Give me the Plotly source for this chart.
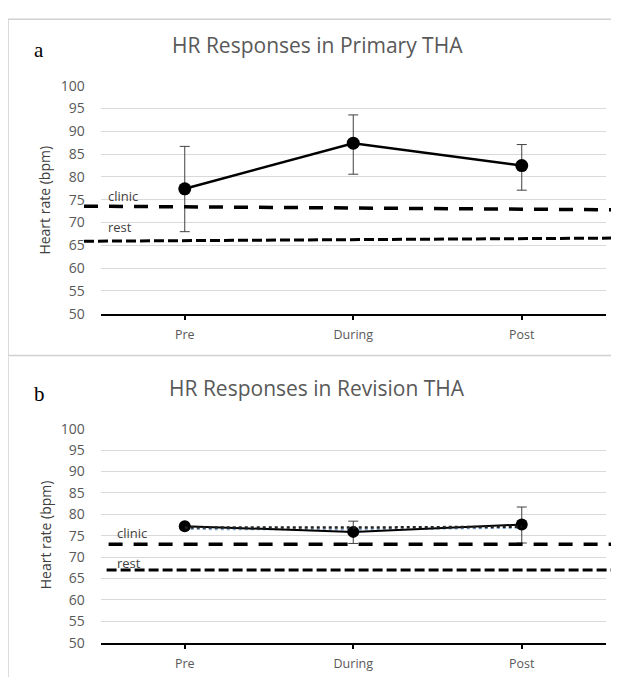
import plotly.graph_objects as go

categories = ["Pre", "During", "Post"]

# Panel a: Primary THA
primary_mean = [77.4, 87.4, 82.5]
primary_err_plus = [9.3, 6.2, 4.6]
primary_err_minus = [9.4, 6.8, 5.4]
primary_clinic = [73.6, 72.8]   # left end, right end
primary_rest = [65.9, 66.6]

# Panel b: Revision THA
revision_mean = [77.2, 75.9, 77.6]
revision_err_plus = [0.0, 2.5, 4.1]
revision_err_minus = [0.0, 2.7, 4.3]
revision_dotted = [76.9, 76.9, 77.1]
revision_dotted_blue = [76.5, 76.4, 76.8]
revision_clinic = [73.0, 73.0]
revision_rest = [67.0, 67.0]

titles = ["HR Responses in Primary THA", "HR Responses in Revision THA"]
panel_letters = ["a", "b"]
y_ticks = list(range(50, 101, 5))

W, H = 619, 677
OX = 8
def px(x): return (x - OX) / W
def py(y):
    f = (y - 17.2) / 0.973
    return 1 - f / H

fig = go.Figure()

fig.add_trace(go.Scatter(
    x=categories, y=primary_mean, xaxis="x", yaxis="y",
    mode="lines+markers",
    line=dict(color="black", width=2.5),
    marker=dict(color="black", size=13),
    error_y=dict(type="data", symmetric=False, array=primary_err_plus,
                 arrayminus=primary_err_minus, color="#404040", thickness=1, width=5),
    showlegend=False, cliponaxis=False))

fig.add_trace(go.Scatter(
    x=categories, y=revision_dotted_blue, xaxis="x2", yaxis="y2",
    mode="lines", line=dict(color="#7fa7d0", width=1.5, dash="dot"),
    showlegend=False))
fig.add_trace(go.Scatter(
    x=categories, y=revision_mean, xaxis="x2", yaxis="y2",
    mode="lines+markers",
    line=dict(color="black", width=2),
    marker=dict(color="black", size=12),
    error_y=dict(type="data", symmetric=False, array=revision_err_plus,
                 arrayminus=revision_err_minus, color="#404040", thickness=1, width=5),
    showlegend=False, cliponaxis=False))
fig.add_trace(go.Scatter(
    x=categories, y=revision_dotted, xaxis="x2", yaxis="y2",
    mode="lines", line=dict(color="#222222", width=2.5, dash="dot"),
    showlegend=False))

xdom = [px(100.5), px(606)]
ydom_a = [py(313.3), py(85)]
ydom_b = [py(642.7), py(428.3)]

axis_x = dict(domain=xdom, range=[-0.5, 2.5], type="category",
              showline=True, linecolor="black", linewidth=2,
              ticks="outside", tickcolor="black", ticklen=4, tickwidth=1.5,
              showgrid=False, zeroline=False,
              tickfont=dict(family="Open Sans", size=12.5, color="#595959"),
              ticklabelstandoff=4)
axis_y = dict(range=[50, 100], tickvals=y_ticks, showgrid=True,
              gridcolor="#d9d9d9", gridwidth=1, zeroline=False, showline=False,
              ticks="outside", ticklen=12, tickcolor="rgba(0,0,0,0)",
              tickfont=dict(family="Open Sans", size=14, color="#595959"))

fig.update_layout(
    width=W, height=H, margin=dict(l=0, r=0, t=0, b=0),
    paper_bgcolor="white", plot_bgcolor="white",
    xaxis=dict(axis_x, anchor="y"),
    yaxis=dict(axis_y, domain=ydom_a, anchor="x"),
    xaxis2=dict(axis_x, anchor="y2"),
    yaxis2=dict(axis_y, domain=ydom_b, anchor="x2"),
)

shapes = []
shapes.append(dict(type="rect", xref="paper", yref="paper",
                   x0=px(8), x1=1.05, y0=py(355), y1=0.998,
                   line=dict(color="#d0d0d0", width=1.5), layer="below"))
shapes.append(dict(type="line", xref="paper", yref="paper",
                   x0=px(8), x1=px(8), y0=py(356), y1=-0.05,
                   line=dict(color="#d0d0d0", width=1.5), layer="below"))

def dom(xp): return (xp - 100.5) / (606 - 100.5)
clinic_dash = "14px,11px"
rest_dash = "10px,4px"
shapes.append(dict(type="line", xref="x domain", yref="y",
                   x0=dom(84), x1=dom(612), y0=primary_clinic[0], y1=primary_clinic[1],
                   line=dict(color="black", width=3.5, dash=clinic_dash)))
shapes.append(dict(type="line", xref="x domain", yref="y",
                   x0=dom(84), x1=dom(612), y0=primary_rest[0], y1=primary_rest[1],
                   line=dict(color="black", width=3, dash=rest_dash)))
shapes.append(dict(type="line", xref="x2 domain", yref="y2",
                   x0=dom(108.6), x1=dom(612), y0=revision_clinic[0], y1=revision_clinic[1],
                   line=dict(color="black", width=3.5, dash=clinic_dash)))
shapes.append(dict(type="line", xref="x2 domain", yref="y2",
                   x0=dom(106.6), x1=dom(612), y0=revision_rest[0], y1=revision_rest[1],
                   line=dict(color="black", width=3, dash=rest_dash)))
fig.update_layout(shapes=shapes)

ann = []
for t, ty, letter, ly, axy in zip(titles, [44, 388], panel_letters, [49, 394], [200, 535]):
    ann.append(dict(text=t, xref="paper", yref="paper", x=px(317), y=py(ty),
                    xanchor="center", yanchor="middle", showarrow=False,
                    font=dict(family="Open Sans", size=21, color="#595959")))
    ann.append(dict(text=letter, xref="paper", yref="paper", x=px(32), y=py(ly),
                    xanchor="left", yanchor="middle", showarrow=False,
                    font=dict(family="Liberation Serif", size=21, color="black")))
    ann.append(dict(text="Heart rate (bpm)", xref="paper", yref="paper", x=px(45), y=py(axy),
                    xanchor="center", yanchor="middle", showarrow=False, textangle=-90,
                    font=dict(family="Open Sans", size=14, color="#404040")))

lab_font = dict(family="Open Sans", size=13, color="#404040")
ann.append(dict(text="clinic", xref="paper", yref="y", x=px(106), y=75.8,
                xanchor="left", yanchor="middle", showarrow=False, font=lab_font))
ann.append(dict(text="rest", xref="paper", yref="y", x=px(106), y=69.0,
                xanchor="left", yanchor="middle", showarrow=False, font=lab_font))
ann.append(dict(text="clinic", xref="paper", yref="y2", x=px(115), y=75.7,
                xanchor="left", yanchor="middle", showarrow=False, font=lab_font))
ann.append(dict(text="rest", xref="paper", yref="y2", x=px(115), y=68.6,
                xanchor="left", yanchor="middle", showarrow=False, font=lab_font))
fig.update_layout(annotations=ann)

fig.write_html("out.html")
